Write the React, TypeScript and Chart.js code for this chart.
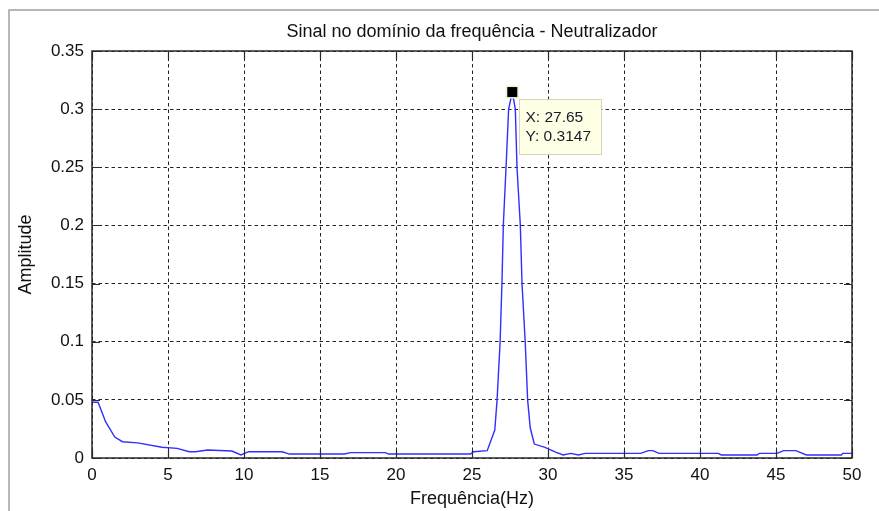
import React, { useEffect, useRef } from "react";
import { Chart, registerables } from "chart.js";

Chart.register(...registerables);

// ---- data ----
const FREQ_HZ = [
  0, 0.4, 0.9, 1.5, 2.0, 3.0, 4.6, 5.6, 6.4, 6.8, 7.6, 9.2, 9.8, 10.3, 12.5, 13.0,
  16.6, 17.0, 19.3, 19.5, 24.9, 25.1, 26.0, 26.5, 26.65, 26.85, 26.97, 27.06, 27.24,
  27.41, 27.65, 27.85, 27.96, 28.18, 28.29, 28.5, 28.66, 28.83, 29.1, 29.8, 30.5,
  31.0, 31.5, 32.0, 32.45, 36.1, 36.6, 36.9, 37.3, 41.2, 41.4, 43.75, 43.9, 45.07,
  45.5, 46.3, 47.0, 49.3, 49.4, 50,
];
const AMPLITUDE = [
  0.048, 0.048, 0.031, 0.018, 0.014, 0.013, 0.0092, 0.0083, 0.0054, 0.0054, 0.0069,
  0.006, 0.0026, 0.0054, 0.0054, 0.0034, 0.0034, 0.0046, 0.0046, 0.0034, 0.0034,
  0.0054, 0.0063, 0.024, 0.05, 0.1, 0.15, 0.2, 0.25, 0.3, 0.3147, 0.3, 0.25, 0.2,
  0.15, 0.1, 0.05, 0.026, 0.012, 0.0092, 0.005, 0.0026, 0.004, 0.0026, 0.004, 0.004,
  0.0063, 0.0063, 0.004, 0.004, 0.0026, 0.0026, 0.004, 0.004, 0.0063, 0.0063, 0.0026,
  0.0026, 0.004, 0.004,
];
const X_TICKS = [0, 5, 10, 15, 20, 25, 30, 35, 40, 45, 50];
const X_TICK_LABELS = ["0", "5", "10", "15", "20", "25", "30", "35", "40", "45", "50"];
const Y_TICKS = [0, 0.05, 0.1, 0.15, 0.2, 0.25, 0.3, 0.35];
const Y_TICK_LABELS = ["0", "0.05", "0.1", "0.15", "0.2", "0.25", "0.3", "0.35"];
const TITLE = "Sinal no domínio da frequência - Neutralizador";
const X_LABEL = "Frequência(Hz)";
const Y_LABEL = "Amplitude";
const PEAK_X = 27.65;
const PEAK_Y = 0.3147;
const TIP_LINES = ["X: 27.65", "Y: 0.3147"];

const FONT = '"Liberation Sans", Arial, Helvetica, sans-serif';

const matlabPlugin = {
  id: "matlabFrame",
  beforeDraw(chart: any) {
    const { ctx, width, height } = chart;
    ctx.save();
    ctx.fillStyle = "#ffffff";
    ctx.fillRect(0, 0, width, height);
    ctx.restore();
  },
  afterDraw(chart: any) {
    const { ctx, chartArea: a, scales } = chart;
    const xs = scales.x;
    const ys = scales.y;
    ctx.save();
    // figure frame
    ctx.strokeStyle = "#a0a0a0";
    ctx.lineWidth = 1.5;
    ctx.beginPath();
    ctx.moveTo(9, chart.height);
    ctx.lineTo(9, 10);
    ctx.lineTo(chart.width, 10);
    ctx.stroke();

    // axes box
    ctx.strokeStyle = "#2a2a2a";
    ctx.lineWidth = 1.5;
    ctx.strokeRect(a.left, a.top, a.right - a.left, a.bottom - a.top);

    // inward ticks
    ctx.lineWidth = 1.2;
    ctx.beginPath();
    xs.ticks.forEach((t: any) => {
      const px = Math.round(xs.getPixelForValue(t.value)) + 0.5;
      ctx.moveTo(px, a.bottom);
      ctx.lineTo(px, a.bottom - 8);
      ctx.moveTo(px, a.top);
      ctx.lineTo(px, a.top + 8);
    });
    ys.ticks.forEach((t: any) => {
      const py = Math.round(ys.getPixelForValue(t.value)) + 0.5;
      ctx.moveTo(a.left, py);
      ctx.lineTo(a.left + 8, py);
      ctx.moveTo(a.right, py);
      ctx.lineTo(a.right - 8, py);
    });
    ctx.stroke();

    // texts
    ctx.fillStyle = "#111111";
    ctx.font = `18px ${FONT}`;
    ctx.textAlign = "center";
    ctx.textBaseline = "alphabetic";
    const cx = (a.left + a.right) / 2;
    ctx.fillText(TITLE, cx, 37);
    ctx.fillText(X_LABEL, cx, 504);
    ctx.save();
    ctx.translate(31, (a.top + a.bottom) / 2);
    ctx.rotate(-Math.PI / 2);
    ctx.fillText(Y_LABEL, 0, 0);
    ctx.restore();

    // data tip
    const mx = xs.getPixelForValue(PEAK_X);
    const my = ys.getPixelForValue(PEAK_Y);
    ctx.fillStyle = "#f4f0c8";
    ctx.fillRect(mx - 6.5, my - 6.5, 13, 13);
    ctx.fillStyle = "#000000";
    ctx.fillRect(mx - 5, my - 5, 10, 10);

    const bx = Math.round(mx + 7) + 0.5;
    const by = Math.round(my + 7) + 0.5;
    ctx.fillStyle = "#ffffe6";
    ctx.fillRect(bx, by, 82, 55);
    ctx.strokeStyle = "#d6d2bc";
    ctx.lineWidth = 1;
    ctx.strokeRect(bx, by, 82, 55);
    ctx.fillStyle = "#1a1a2e";
    ctx.font = `15.5px ${FONT}`;
    ctx.textAlign = "left";
    ctx.fillText(TIP_LINES[0], bx + 6, by + 22);
    ctx.fillText(TIP_LINES[1], bx + 6, by + 41);
    ctx.restore();
  },
};

export default function App() {
  const ref = useRef<HTMLCanvasElement>(null);
  useEffect(() => {
    if (!ref.current) return;
    const points = FREQ_HZ.map((f, i) => ({ x: f, y: AMPLITUDE[i] }));
    const chart = new Chart(ref.current, {
      type: "line",
      data: {
        datasets: [
          {
            data: points,
            borderColor: "#2f2fff",
            borderWidth: 1.4,
            pointRadius: 0,
            tension: 0,
            fill: false,
          },
        ],
      },
      options: {
        animation: false,
        responsive: false,
        devicePixelRatio: 1,
        parsing: false as any,
        layout: { padding: { left: 0, right: 27, top: 51, bottom: 0 } },
        plugins: {
          legend: { display: false },
          tooltip: { enabled: false },
          title: { display: false },
        },
        scales: {
          x: {
            type: "linear",
            min: 0,
            max: 50,
            afterBuildTicks: (s: any) => {
              s.ticks = X_TICKS.map((v) => ({ value: v }));
            },
            afterFit: (s: any) => {
              s.height = 53;
            },
            ticks: {
              callback: (_v: any, i: number) => X_TICK_LABELS[i],
              color: "#111111",
              font: { family: FONT, size: 17 },
              padding: 7,
              maxRotation: 0,
              autoSkip: false,
            },
            grid: {
              color: "#222222",
              lineWidth: 1,
              drawTicks: false,
            },
            border: { display: false, dash: [3.5, 3] },
          } as any,
          y: {
            type: "linear",
            min: 0,
            max: 0.35,
            afterBuildTicks: (s: any) => {
              s.ticks = Y_TICKS.map((v) => ({ value: v }));
            },
            afterFit: (s: any) => {
              s.width = 92;
            },
            ticks: {
              callback: (_v: any, i: number) => Y_TICK_LABELS[i],
              color: "#111111",
              font: { family: FONT, size: 17 },
              padding: 8,
              autoSkip: false,
            },
            grid: {
              color: "#222222",
              lineWidth: 1,
              drawTicks: false,
            },
            border: { display: false, dash: [3.5, 3] },
          } as any,
        },
      },
      plugins: [matlabPlugin],
    });
    return () => chart.destroy();
  }, []);
  return (
    <div style={{ position: "fixed", left: 0, top: 0, width: 879, height: 511 }}>
      <canvas ref={ref} width={879} height={511} style={{ width: 879, height: 511 }} />
    </div>
  );
}
